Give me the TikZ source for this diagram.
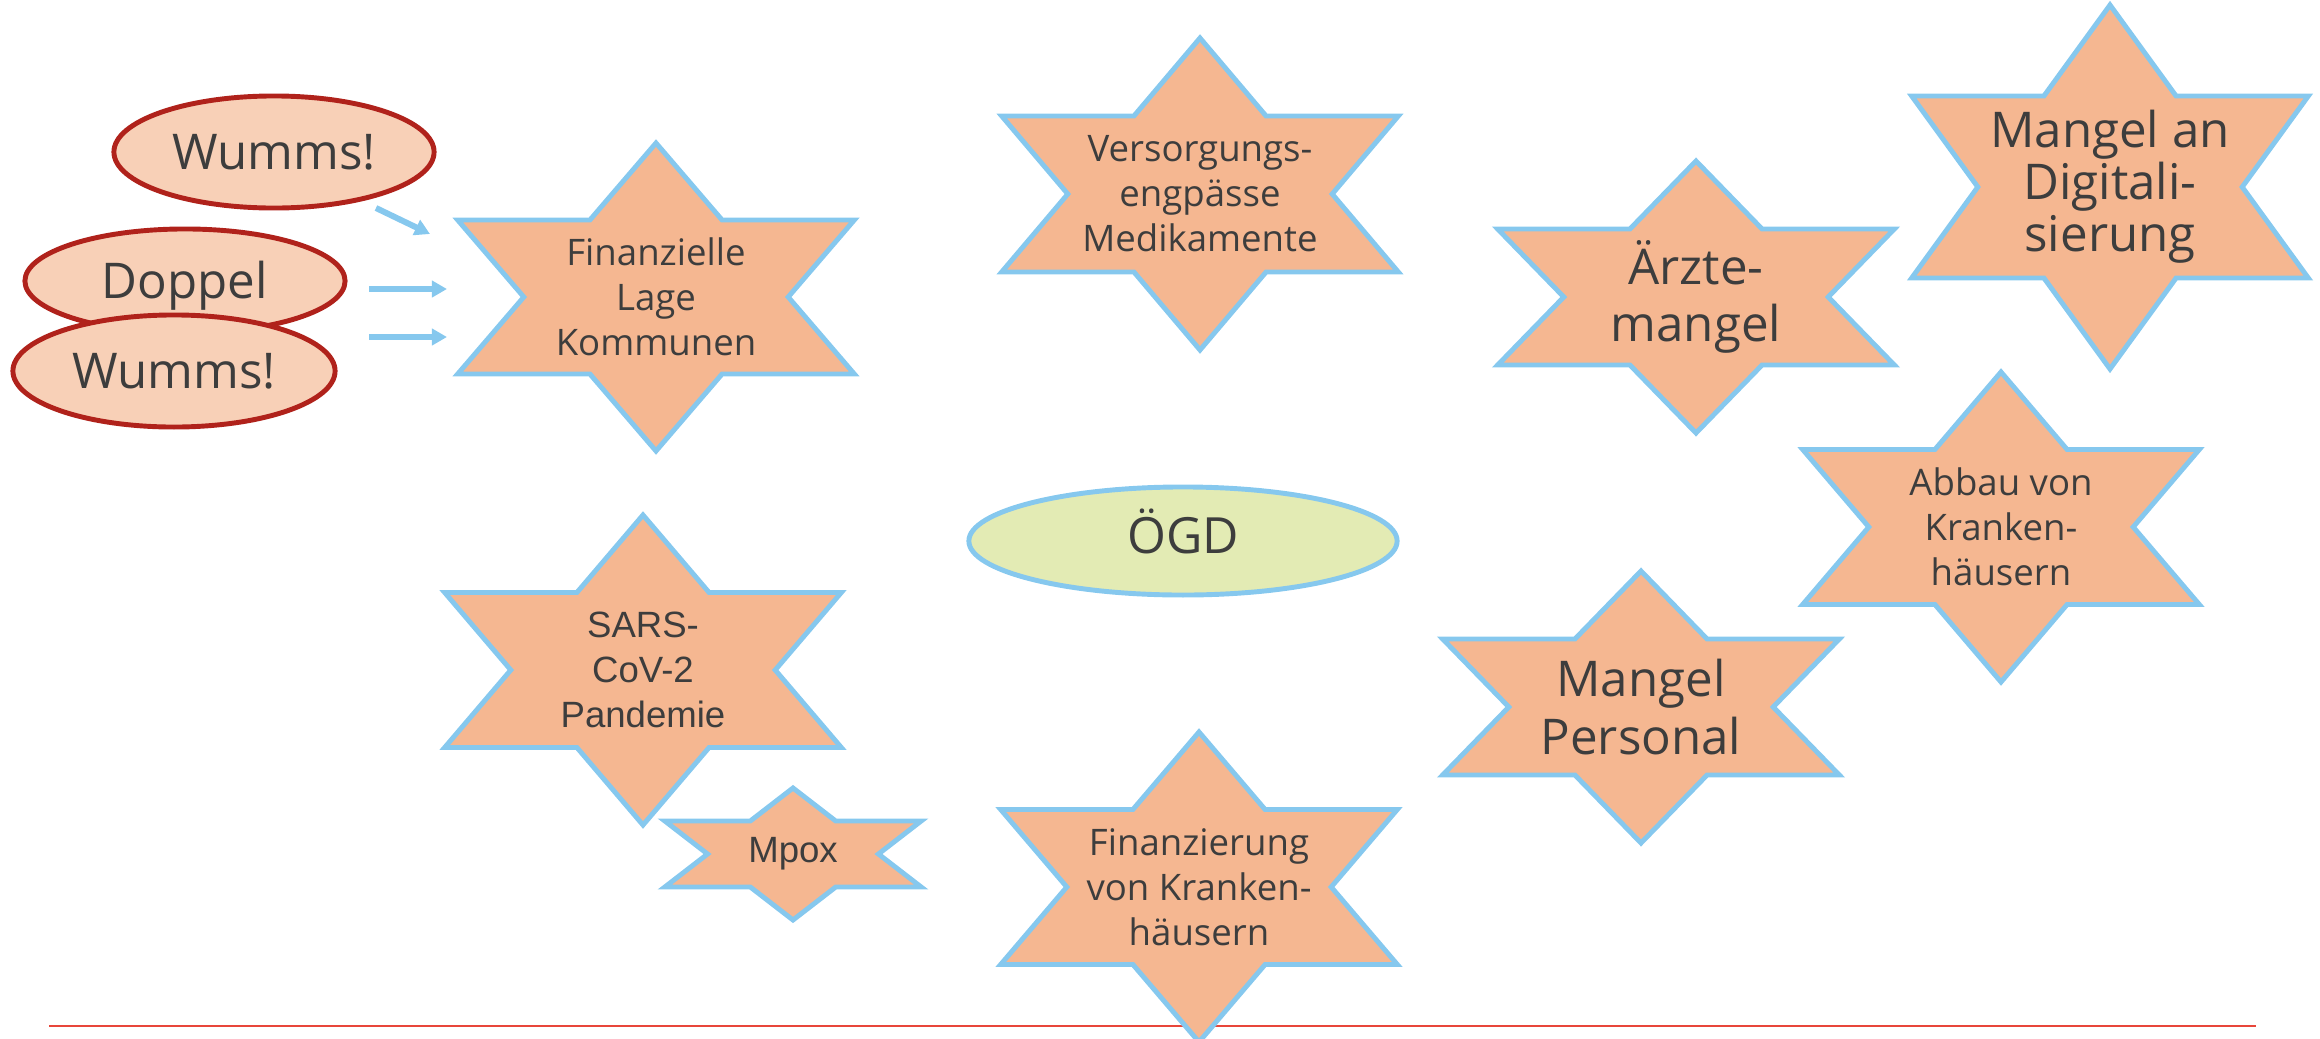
\documentclass[tikz,border=0pt]{standalone}
\usepackage{fontspec}
\setmainfont{Open Sans}
\newfontfamily\arialfont{Liberation Sans}
\usepackage{tikz}
\usetikzlibrary{shapes.geometric, arrows.meta}

\definecolor{starfill}{HTML}{F5B791}
\definecolor{skyline}{HTML}{86C8EE}
\definecolor{wummsfill}{HTML}{F8D0B7}
\definecolor{wummsline}{HTML}{B0221B}
\definecolor{oegdfill}{HTML}{E3EBB4}
\definecolor{textgray}{HTML}{3D3D3D}
\definecolor{redrule}{HTML}{E8463A}

\tikzset{
  starline/.style={draw=skyline, fill=starfill, line width=1.4pt, line join=miter},
  startext/.style={align=center, text=textgray, inner sep=0pt, font=\fontsize{10.4}{12.8}\selectfont},
  bigtext/.style={font=\fontsize{14}{16.3}\selectfont},
  wumms/.style={ellipse, draw=wummsline, fill=wummsfill, line width=1.4pt, text=textgray, inner sep=0pt, font=\fontsize{14}{16}\selectfont},
  push/.style={draw=skyline, line width=1.7pt, -{Triangle[length=4.3pt, width=4.6pt]}},
}

% six pointed star: [text options]{name}{centre}{rx}{ry}{text}
\newcommand{\hexstar}[6][]{%
  \draw[starline, shift={(#3)}, xscale=#4, yscale=#5]
    (90:1) -- (60:0.57735) -- (30:1) -- (0:0.57735) -- (-30:1) -- (-60:0.57735)
    -- (-90:1) -- (-120:0.57735) -- (-150:1) -- (180:0.57735) -- (150:1) -- (120:0.57735) -- cycle;
  \node[startext, #1] (#2) at (#3) {#6};%
}

\begin{document}
\begin{tikzpicture}[x=0.01cm, y=-0.01cm]
\useasboundingbox (0,0) rectangle (2320,1039);

% rule at the bottom
\coordinate (ruleL) at (49,1026);
\coordinate (ruleR) at (2256,1026);
\draw[redrule, line width=0.8pt] (ruleL) -- (ruleR);

% Wumms
\node[wumms, minimum width=3.2cm, minimum height=1.12cm] (wummsA) at (274,152) {Wumms!};
\node[wumms, minimum width=3.2cm, minimum height=1.04cm, text height=1em, text depth=0pt] (doppel) at (185,281) {Doppel};
\node[wumms, minimum width=3.22cm, minimum height=1.12cm] (wummsB) at (174,371) {Wumms!};

\coordinate (inA) at (376,208);  \coordinate (outA) at (430,234);
\coordinate (inB) at (369,289);  \coordinate (outB) at (447,289);
\coordinate (inC) at (369,337);  \coordinate (outC) at (447,337);
\draw[push] (inA) -- (outA);
\draw[push] (inB) -- (outB);
\draw[push] (inC) -- (outC);

% stars
\hexstar{kommunen}{656,297}{229}{154}{Finanzielle\\Lage\\Kommunen}
\hexstar{engpass}{1200,194}{229}{156}{Versorgungs-\\engpässe\\Medikamente}
\hexstar[bigtext]{aerzte}{1696,297}{229}{136}{Ärzte-\\mangel}
\hexstar[font=\fontsize{14}{14.8}\selectfont]{digital}{2110,187}{229}{182}{Mangel an\\Digitali-\\sierung}
\hexstar{abbau}{2001,527}{229}{155}{Abbau von\\Kranken-\\häusern}
\hexstar[bigtext]{personal}{1641,707}{229}{136}{Mangel\\Personal}
\hexstar[font=\arialfont\fontsize{10.4}{12.8}\selectfont]{sars}{643,670}{229}{155}{SARS-\\CoV-2\\Pandemie}
\hexstar[font=\arialfont\fontsize{10.4}{12.8}\selectfont]{mpox}{793,854}{148}{66}{Mpox}
\hexstar{finanz}{1199,887}{229}{155}{Finanzierung\\von Kranken-\\häusern}

% centre
\node[ellipse, draw=skyline, fill=oegdfill, line width=1.4pt, text=textgray, inner sep=0pt,
  minimum width=4.28cm, minimum height=1.08cm, text height=0.714em, text depth=0pt,
  font=\fontsize{14.2}{16}\selectfont] (oegd) at (1183,541) {ÖGD};

\end{tikzpicture}
\end{document}
